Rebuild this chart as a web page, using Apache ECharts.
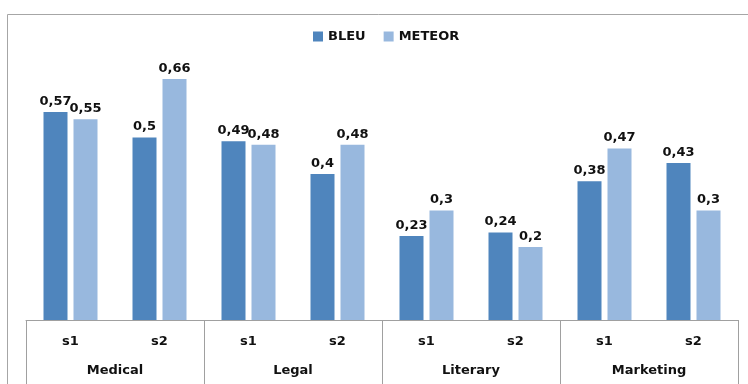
<!DOCTYPE html>
<html><head><meta charset="utf-8">
<script src="https://cdn.jsdelivr.net/npm/echarts@6/dist/echarts.min.js"></script>
<style>html,body{margin:0;padding:0;background:#fff}#c{width:748px;height:384px}</style>
</head><body><div id="c"></div>
<script>
var groups = ['Medical', 'Legal', 'Literary', 'Marketing'];
var subs = ['s1', 's2', 's1', 's2', 's1', 's2', 's1', 's2'];
var bleu = [0.57, 0.5, 0.49, 0.4, 0.23, 0.24, 0.38, 0.43];
var meteor = [0.55, 0.66, 0.48, 0.48, 0.3, 0.2, 0.47, 0.3];

var font = 'DejaVu Sans';
function lbl(p){ return String(p.value).replace('.', ','); }
var chart = echarts.init(document.getElementById('c'), null, {renderer:'canvas'});
chart.setOption({
  animation: false,
  textStyle: {fontFamily: font},
  graphic: [{type:'rect', left:5, top:12, shape:{width:800, height:400}, style:{fill:'none', stroke:'#a6a6a6', lineWidth:1}, silent:true}],
  legend: {left: 308, top: 25, itemWidth: 10, itemHeight: 10, itemGap: 18, icon: 'rect',
    textStyle: {fontFamily: font, fontSize: 13, fontWeight:'bold', color: '#111'}, data: ['BLEU', 'METEOR']},
  grid: {left: 26, right: 10, top: 28, bottom: 64, containLabel: false},
  xAxis: [
    {type:'category', data: subs, position:'bottom',
      axisLine:{lineStyle:{color:'#a0a0a0'}}, axisTick:{show:false},
      axisLabel:{margin:15, fontFamily:font, fontSize:13, fontWeight:'bold', color:'#111'}},
    {type:'category', data: groups, position:'bottom',
      axisLine:{show:false}, axisTick:{show:true, length:64, lineStyle:{color:'#a0a0a0'}},
      axisLabel:{margin:44, fontFamily:font, fontSize:13, fontWeight:'bold', color:'#111'}}
  ],
  yAxis: {type:'value', min:0, max:0.8, show:false, splitLine:{show:false}},
  series: [
    {name:'BLEU', type:'bar', data: bleu, barWidth:24, barGap:'25%', itemStyle:{color:'#4f85bd'},
      label:{show:true, position:'top', distance:4, formatter:lbl, fontFamily:font, fontSize:13, fontWeight:'bold', color:'#111'}},
    {name:'METEOR', type:'bar', data: meteor, barWidth:24, barGap:'25%', itemStyle:{color:'#98b8de'},
      label:{show:true, position:'top', distance:4, formatter:lbl, fontFamily:font, fontSize:13, fontWeight:'bold', color:'#111'}}
  ]
});
</script></body></html>
